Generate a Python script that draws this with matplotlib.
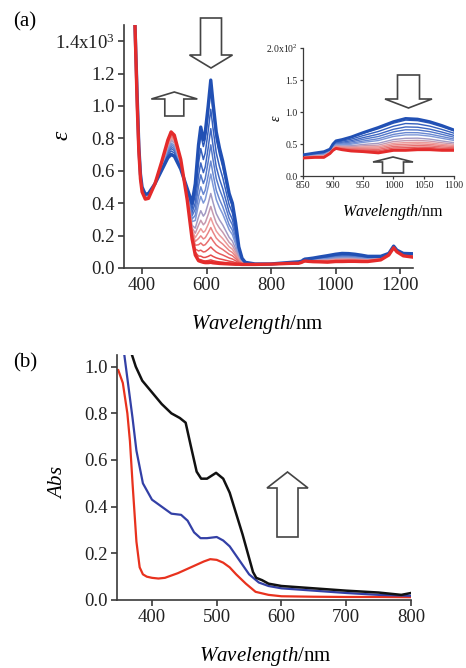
import numpy as np
import matplotlib
matplotlib.use("Agg")
import matplotlib.pyplot as plt
from matplotlib.colors import LinearSegmentedColormap
from matplotlib.patches import Polygon

plt.rcParams["font.family"] = ["Liberation Serif", "DejaVu Serif"]
plt.rcParams["mathtext.fontset"] = "custom"
plt.rcParams["mathtext.rm"] = "Liberation Serif"
plt.rcParams["mathtext.it"] = "Liberation Serif:italic"

# ---------------- (a) titration spectra, epsilon in units of 10^3 ----------------
wavelength_a = [350, 370, 378, 385, 390, 395, 400, 410, 420, 440, 460, 480, 490, 500,
                520, 540, 555, 565, 575, 582, 590, 596, 605, 613, 620, 630, 640, 650,
                660, 670, 680, 690, 700, 710, 720, 750, 800, 850, 870, 885, 895, 900,
                905, 915, 930, 950, 975, 1000, 1020, 1040, 1060, 1080, 1100, 1140,
                1165, 1180, 1190, 1210, 1240]

eps_start = [3.0, 1.9, 1.5, 1.05, 0.75, 0.58, 0.50, 0.455, 0.46, 0.52, 0.60, 0.68, 0.70,
             0.69, 0.61, 0.49, 0.40, 0.52, 0.76, 0.87, 0.79, 0.84, 1.0, 1.16, 1.02,
             0.84, 0.74, 0.66, 0.56, 0.46, 0.40, 0.28, 0.13, 0.06, 0.035, 0.025,
             0.025, 0.033, 0.036, 0.038, 0.042, 0.050, 0.055, 0.057, 0.061, 0.068,
             0.076, 0.085, 0.090, 0.089, 0.085, 0.079, 0.072, 0.072, 0.090, 0.135,
             0.110, 0.090, 0.088]

eps_end = [3.0, 1.9, 1.5, 1.0, 0.72, 0.55, 0.47, 0.425, 0.43, 0.52, 0.65, 0.79, 0.84,
           0.82, 0.67, 0.42, 0.18, 0.08, 0.045, 0.040, 0.035, 0.033, 0.033, 0.035,
           0.032, 0.030, 0.028, 0.027, 0.026, 0.025, 0.024, 0.023, 0.023, 0.022,
           0.022, 0.022, 0.024, 0.028, 0.029, 0.029, 0.035, 0.040, 0.043, 0.041,
           0.039, 0.038, 0.036, 0.040, 0.040, 0.041, 0.041, 0.040, 0.040, 0.050,
           0.080, 0.125, 0.100, 0.075, 0.067]

# epsilon at 613 nm for each recorded spectrum of the titration
peak_613 = [1.16, 1.10, 0.98, 0.86, 0.76, 0.66, 0.58, 0.46, 0.38, 0.31, 0.25,
            0.19, 0.13, 0.08, 0.05, 0.035]

# ---------------- (b) absorbance spectra ----------------
wavelength_b_red = [348, 355, 362, 366, 370, 376, 381, 386, 392, 400, 410, 420, 440,
                    460, 480, 490, 500, 510, 520, 530, 545, 560, 580, 600, 650, 700,
                    750, 800]
abs_red = [0.985, 0.93, 0.80, 0.68, 0.50, 0.25, 0.14, 0.11, 0.10, 0.095, 0.092, 0.095,
           0.115, 0.14, 0.165, 0.175, 0.172, 0.16, 0.14, 0.11, 0.07, 0.035, 0.022,
           0.016, 0.014, 0.013, 0.013, 0.012]

wavelength_b_blue = [355, 362, 370, 376, 386, 400, 415, 430, 445, 455, 465, 475, 485,
                     500, 510, 520, 535, 550, 565, 580, 600, 650, 700, 750, 800]
abs_blue = [1.10, 0.95, 0.78, 0.64, 0.50, 0.43, 0.40, 0.37, 0.365, 0.34, 0.29, 0.265,
            0.265, 0.27, 0.255, 0.23, 0.17, 0.11, 0.075, 0.06, 0.05, 0.04, 0.03,
            0.022, 0.018]

wavelength_b_black = [368, 375, 385, 400, 415, 430, 443, 452, 460, 469, 476, 485, 499,
                      510, 520, 530, 540, 550, 556, 561, 570, 580, 600, 650, 700, 750,
                      785, 800]
abs_black = [1.06, 1.00, 0.94, 0.89, 0.84, 0.80, 0.78, 0.76, 0.66, 0.55, 0.52, 0.52,
             0.545, 0.52, 0.46, 0.37, 0.28, 0.18, 0.12, 0.095, 0.085, 0.07, 0.06,
             0.05, 0.04, 0.032, 0.022, 0.03]

# ---------------------------------------------------------------------------
W, H = 466, 668
fig = plt.figure(figsize=(W / 100, H / 100), dpi=100)
fig.patch.set_facecolor("white")

AX_COLOR = "#3a3a3a"


def px_axes(left, right, top, bottom):
    """Axes rectangle given in pixel coordinates (origin at the top left)."""
    return fig.add_axes([left / W, 1 - bottom / H, (right - left) / W, (bottom - top) / H])


def style_axes(ax, size, width=1.2, length=4.5):
    for side in ("top", "right"):
        ax.spines[side].set_visible(False)
    for side in ("left", "bottom"):
        ax.spines[side].set_color(AX_COLOR)
        ax.spines[side].set_linewidth(width)
    ax.tick_params(direction="out", length=length, width=width, colors=AX_COLOR,
                   labelsize=size, labelcolor="#222222", pad=2)


def block_arrow(xc, y_tail, y_tip, head_w, shaft_w, head_len, lw=1.2):
    """Hollow block arrow, pixel coordinates with the origin at the top left."""
    d = 1 if y_tip > y_tail else -1
    yb = y_tip - d * head_len
    pts = [(xc - shaft_w / 2, y_tail), (xc + shaft_w / 2, y_tail),
           (xc + shaft_w / 2, yb), (xc + head_w / 2, yb), (xc, y_tip),
           (xc - head_w / 2, yb), (xc - shaft_w / 2, yb)]
    pts = [(x / W, 1 - y / H) for x, y in pts]
    fig.patches.append(Polygon(pts, closed=True, transform=fig.transFigure,
                               facecolor="white", edgecolor="#444444", linewidth=lw,
                               zorder=10))


# colours of the titration series, first spectrum blue, last red
cmap = LinearSegmentedColormap.from_list(
    "titration", ["#2150b4", "#3d66c2", "#7d98d8", "#eb9a9a", "#e65a5a", "#e42b2b"])

wl_a = np.array(wavelength_a, dtype=float)
e0 = np.array(eps_start)
e1 = np.array(eps_end)
n = len(peak_613)
p0, p1 = peak_613[0], peak_613[-1]


def spectrum(k):
    frac = (peak_613[k] - p1) / (p0 - p1)
    return e1 + frac * (e0 - e1)


def draw_series(ax, scale=1.0, lw_mid=1.1, lw_end=2.4):
    order = list(range(1, n - 1)) + [0, n - 1]
    for k in order:
        end = k in (0, n - 1)
        ax.plot(wl_a, spectrum(k) * scale, color=cmap(k / (n - 1)),
                lw=lw_end if end else lw_mid, zorder=3 if end else 2,
                solid_joinstyle="round")


# ---------------- panel (a) ----------------
ax1 = px_axes(124, 413, 24.5, 268)
style_axes(ax1, 13.5)
draw_series(ax1)
ax1.set_xlim(344, 1240)
ax1.set_ylim(0, 1.503)
ax1.set_xticks([400, 600, 800, 1000, 1200])
ax1.set_yticks([0.0, 0.2, 0.4, 0.6, 0.8, 1.0, 1.2, 1.4])
ax1.set_yticklabels(["0.0", "0.2", "0.4", "0.6", "0.8", "1.0", "1.2",
                     r"1.4x10$^{3}$"])
fig.text(62 / W, 1 - 135 / H, r"$\varepsilon$", fontsize=17, rotation=90,
         ha="center", va="center")
fig.text(257 / W, 1 - 325 / H, r"$Wavelength$/nm", fontsize=15,
         ha="center", va="center")
fig.text(25 / W, 1 - 22 / H, "(a)", fontsize=15, ha="center", va="center")

block_arrow(174.3, 116, 92, 46, 19, 7)
block_arrow(211, 18, 68, 43, 21, 13)

# inset: near-infrared region, epsilon in units of 10^2
ax_in = px_axes(302.7, 454, 48, 176)
style_axes(ax_in, 7, width=0.9, length=2.5)
draw_series(ax_in, scale=10.0, lw_mid=1.0, lw_end=2.0)
ax_in.set_xlim(850, 1100)
ax_in.set_ylim(0, 2.0)
ax_in.set_xticks([850, 900, 950, 1000, 1050, 1100])
ax_in.set_yticks([0.0, 0.5, 1.0, 1.5, 2.0])
ax_in.set_yticklabels(["0.0", "0.5", "1.0", "1.5", r"2.0x10$^{2}$"])
ax_in.tick_params(pad=1)
fig.text(277 / W, 1 - 118 / H, r"$\varepsilon$", fontsize=10, rotation=90,
         ha="center", va="center")
fig.text(393 / W, 1 - 212 / H, r"$Wavelength$/nm", fontsize=11.5,
         ha="center", va="center")

block_arrow(408.5, 75, 108, 47, 22, 9)
block_arrow(393, 173, 157, 40, 21, 5)

# ---------------- panel (b) ----------------
ax2 = px_axes(117, 411, 355, 600)
style_axes(ax2, 13.5)
ax2.plot(wavelength_b_red, abs_red, color="#e8321e", lw=1.6)
ax2.plot(wavelength_b_blue, abs_blue, color="#3340a6", lw=1.6)
ax2.plot(wavelength_b_black, abs_black, color="#111111", lw=1.8)
ax2.set_xlim(346, 800)
ax2.set_ylim(0, 1.05)
ax2.set_xticks([400, 500, 600, 700, 800])
ax2.set_yticks([0.0, 0.2, 0.4, 0.6, 0.8, 1.0])
ax2.yaxis.set_major_formatter(plt.FormatStrFormatter("%.1f"))
fig.text(58 / W, 1 - 482 / H, r"$Abs$", fontsize=15, rotation=90,
         ha="center", va="center")
fig.text(265 / W, 1 - 657 / H, r"$Wavelength$/nm", fontsize=15,
         ha="center", va="center")
fig.text(25 / W, 1 - 363 / H, "(b)", fontsize=15, ha="center", va="center")

block_arrow(287.5, 537, 472, 41, 21, 16)

fig.savefig("out.png", dpi=100, facecolor="white")
